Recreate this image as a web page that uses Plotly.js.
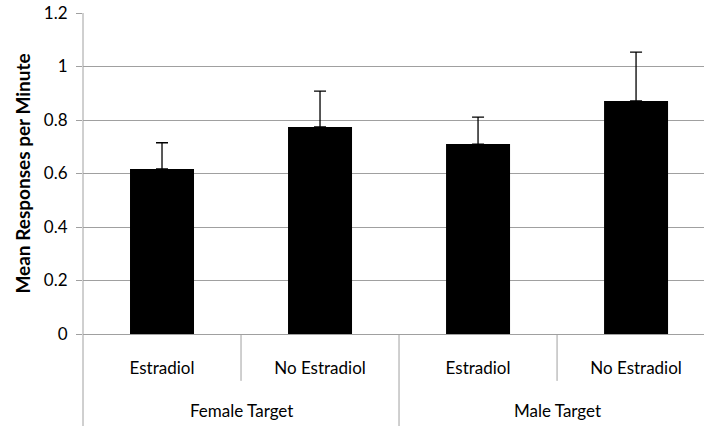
<!DOCTYPE html>
<html>
<head>
<meta charset="utf-8">
<script src="https://cdn.plot.ly/plotly-3.0.1.min.js"></script>
<style>html,body{margin:0;padding:0;background:#fff;}#chart{width:704px;height:426px;}</style>
</head>
<body>
<div id="chart"></div>
<script>
const conditions = ["Estradiol", "No Estradiol", "Estradiol", "No Estradiol"];
const groups = ["Female Target", "Male Target"];
const meanResponses = [0.617, 0.774, 0.710, 0.871];
const errorValues = [0.098, 0.134, 0.101, 0.183];
const yTicks = [0, 0.2, 0.4, 0.6, 0.8, 1, 1.2];

const FONT = "Lato, 'Open Sans', sans-serif";
const GRAY = "#a0a0a0";
const LABEL_SIZE = 17;

const xIdx = conditions.map((_, i) => i);

const trace = {
  type: "bar",
  x: xIdx,
  y: meanResponses,
  width: 0.405,
  marker: {color: "#000000", line: {width: 0}},
  error_y: {type: "data", array: errorValues, symmetric: false, arrayminus: errorValues.map(() => 0),
            color: "#000000", thickness: 1.3, width: 6},
  hoverinfo: "skip"
};

const perGroup = conditions.length / groups.length;
const shapes = [];
for (let i = 0; i < conditions.length - 1; i++) {
  const major = (i + 1) % perGroup === 0;
  shapes.push({type: "line", xref: "x", yref: "paper", x0: i + 0.5, x1: i + 0.5,
               y0: 0, y1: major ? -0.29 : -0.146, line: {color: GRAY, width: 1}});
}
shapes.push({type: "line", xref: "paper", yref: "paper", x0: 0, x1: 0, y0: -0.29, y1: 1,
             line: {color: GRAY, width: 1}});

const annotations = groups.map((g, gi) => ({
  text: g, xref: "x", yref: "paper", x: gi * perGroup + (perGroup - 1) / 2, y: -0.237,
  showarrow: false, yanchor: "middle", xanchor: "center",
  font: {family: FONT, size: LABEL_SIZE, color: "#000"}
}));

const layout = {
  width: 704, height: 426,
  margin: {l: 83, r: 0, t: 13, b: 92, pad: 0},
  paper_bgcolor: "#fff", plot_bgcolor: "#fff",
  showlegend: false,
  font: {family: FONT, size: LABEL_SIZE, color: "#000"},
  xaxis: {
    type: "linear", range: [-0.5, 3.43],
    tickmode: "array", tickvals: xIdx, ticktext: conditions,
    ticks: "", showgrid: false, zeroline: false,
    showline: true, linecolor: GRAY, linewidth: 1,
    ticklabelstandoff: 19,
    tickfont: {family: FONT, size: LABEL_SIZE, color: "#000"}
  },
  yaxis: {
    range: [0, 1.2], tickmode: "array", tickvals: yTicks,
    ticktext: yTicks.map(v => String(v)),
    ticks: "outside", ticklen: 6, tickcolor: GRAY, tickwidth: 1,
    showgrid: true, gridcolor: GRAY, gridwidth: 1,
    zeroline: false, showline: false,
    ticklabelstandoff: 5,
    tickfont: {family: FONT, size: LABEL_SIZE, color: "#000"},
    title: {text: "<b>Mean Responses per Minute</b>", standoff: 8,
            font: {family: FONT, size: 19, color: "#000"}}
  },
  shapes: shapes,
  annotations: annotations
};

Plotly.newPlot("chart", [trace], layout, {staticPlot: true, displayModeBar: false});
</script>
</body>
</html>
